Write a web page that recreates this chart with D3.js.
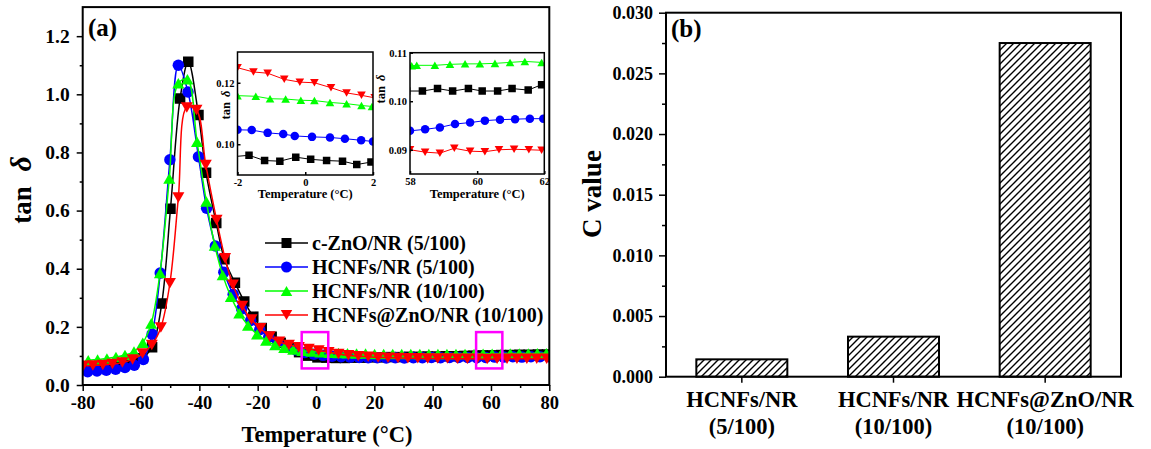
<!DOCTYPE html>
<html>
<head>
<meta charset="utf-8">
<script src="https://cdn.jsdelivr.net/npm/d3@7"></script>
<style>
body { margin: 0; background: #fff; }
svg text { font-family: "Liberation Serif", "Times New Roman", serif; font-weight: bold; fill: #000; }
</style>
</head>
<body>
<svg id="chart" width="1151" height="449"></svg>
<script>
// ---- data ----
const seriesNames = ["c-ZnO/NR (5/100)", "HCNFs/NR (5/100)", "HCNFs/NR (10/100)", "HCNFs@ZnO/NR (10/100)"];
const seriesColors = ["#000000", "#0000ff", "#00ff00", "#ff0000"];
const seriesShapes = ["square", "circle", "up", "down"];

// main tan delta curves, [temperature, tan delta]
const cZnO5 = [[-78.8,0.058],[-75.6,0.060],[-72.4,0.062],[-69.2,0.065],[-66.0,0.070],[-62.8,0.078],[-59.6,0.092],[-56.2,0.130],[-52.9,0.280],[-49.9,0.606],[-46.6,0.986],[-43.8,1.112],[-40.3,0.929],[-37.7,0.730],[-34.2,0.557],[-31.4,0.433],[-27.8,0.352],[-24.6,0.287],[-21.5,0.235],[-18.6,0.196],[-15.2,0.166],[-12.1,0.145],[-9.0,0.128],[-5.8,0.113],[-2.7,0.101],[0.5,0.095],[3.6,0.094],[6.8,0.093],[9.9,0.093],[13.1,0.094],[16.2,0.094],[19.4,0.095],[22.5,0.095],[25.7,0.096],[28.8,0.096],[32.0,0.097],[35.1,0.097],[38.3,0.098],[41.4,0.098],[44.6,0.099],[47.7,0.099],[50.9,0.100],[54.0,0.101],[57.2,0.102],[60.3,0.102],[63.5,0.103],[66.6,0.103],[69.8,0.104],[72.9,0.104],[76.1,0.105],[79.2,0.105]];
const hcnf5 = [[-78.3,0.046],[-75.1,0.048],[-71.9,0.051],[-68.7,0.054],[-65.5,0.060],[-62.3,0.068],[-59.2,0.088],[-56.2,0.175],[-53.4,0.385],[-50.1,0.775],[-47.2,1.100],[-43.9,1.008],[-40.3,0.785],[-37.5,0.608],[-34.5,0.478],[-31.6,0.388],[-28.4,0.312],[-25.5,0.262],[-22.4,0.222],[-19.3,0.190],[-16.2,0.165],[-13.1,0.146],[-10.0,0.132],[-6.9,0.121],[-3.8,0.112],[-0.7,0.106],[2.4,0.102],[5.5,0.099],[8.6,0.097],[11.7,0.096],[14.8,0.095],[17.9,0.094],[21.0,0.094],[24.1,0.093],[27.2,0.094],[30.3,0.093],[33.4,0.094],[36.5,0.094],[39.6,0.095],[42.7,0.094],[45.8,0.095],[48.9,0.095],[52.0,0.095],[55.1,0.094],[58.2,0.095],[61.3,0.096],[64.4,0.096],[67.5,0.097],[70.6,0.096],[73.7,0.097],[76.8,0.097],[79.9,0.097]];
const hcnf10 = [[-78.1,0.085],[-74.9,0.088],[-71.7,0.091],[-68.6,0.096],[-65.5,0.103],[-62.4,0.115],[-59.4,0.145],[-56.5,0.212],[-53.5,0.385],[-50.3,0.710],[-47.2,1.038],[-44.1,1.052],[-40.8,0.837],[-37.6,0.631],[-34.7,0.480],[-32.0,0.378],[-29.2,0.304],[-26.3,0.247],[-23.3,0.205],[-20.2,0.175],[-17.1,0.153],[-14.0,0.138],[-10.9,0.128],[-7.8,0.122],[-4.7,0.118],[-1.6,0.1155],[1.5,0.113],[4.6,0.111],[7.7,0.110],[10.8,0.109],[13.9,0.108],[17.0,0.108],[20.1,0.107],[23.2,0.107],[26.3,0.107],[29.4,0.107],[32.5,0.107],[35.6,0.107],[38.7,0.107],[41.8,0.107],[44.9,0.107],[48.0,0.107],[51.1,0.107],[54.2,0.107],[57.3,0.1075],[60.4,0.1077],[63.5,0.108],[66.6,0.108],[69.7,0.108],[72.8,0.108],[75.9,0.109],[79.0,0.109]];
const hcnfZnO10 = [[-79.8,0.066],[-76.5,0.067],[-73.1,0.069],[-69.8,0.072],[-66.4,0.077],[-62.9,0.088],[-59.5,0.108],[-56.3,0.138],[-53.2,0.198],[-50.1,0.350],[-47.2,0.645],[-44.3,0.955],[-41.0,0.946],[-37.8,0.757],[-34.1,0.568],[-31.2,0.436],[-28.5,0.345],[-25.3,0.272],[-22.1,0.225],[-19.1,0.195],[-15.9,0.167],[-12.6,0.149],[-9.3,0.138],[-5.9,0.130],[-2.5,0.124],[0.9,0.119],[4.3,0.113],[7.7,0.107],[11.1,0.102],[14.5,0.099],[17.9,0.097],[21.3,0.095],[24.7,0.094],[28.1,0.093],[31.5,0.092],[34.9,0.092],[38.3,0.091],[41.7,0.091],[45.1,0.091],[48.5,0.090],[51.9,0.090],[55.3,0.090],[58.7,0.0895],[62.1,0.090],[65.5,0.090],[68.9,0.090],[72.3,0.090],[75.7,0.090],[79.1,0.090]];

// inset near 0 C
const inset0cZnO = [[-2.1,0.0960],[-1.66,0.0964],[-1.2,0.0947],[-0.75,0.0945],[-0.28,0.0958],[0.16,0.0951],[0.63,0.0947],[1.1,0.0945],[1.52,0.0934],[1.94,0.0942]];
const inset0hcnf5 = [[-2.0,0.1047],[-1.58,0.1046],[-1.11,0.1037],[-0.65,0.1033],[-0.31,0.1027],[0.2,0.1024],[0.73,0.1022],[1.17,0.1018],[1.65,0.1013],[2.0,0.1009]];
const inset0hcnf10 = [[-2.0,0.1158],[-1.46,0.1156],[-1.04,0.1148],[-0.58,0.1147],[-0.13,0.1143],[0.27,0.1142],[0.73,0.1136],[1.22,0.1132],[1.66,0.1126],[1.97,0.1123]];
const inset0ZnO10 = [[-2.0,0.1249],[-1.53,0.1235],[-1.11,0.1231],[-0.62,0.1211],[-0.16,0.1202],[0.27,0.1200],[0.76,0.1184],[1.22,0.1167],[1.66,0.1159],[2.05,0.1151]];

// inset near 60 C
const inset60cZnO = [[57.9,0.1021],[58.37,0.1021],[58.82,0.1026],[59.27,0.1021],[59.74,0.1026],[60.15,0.1021],[60.61,0.1021],[61.04,0.1026],[61.52,0.1023],[61.92,0.1034]];
const inset60hcnf5 = [[58.0,0.0939],[58.45,0.0942],[58.89,0.0946],[59.34,0.0953],[59.79,0.0956],[60.23,0.0960],[60.68,0.0962],[61.13,0.0963],[61.57,0.0964],[61.97,0.0964]];
const inset60hcnf10 = [[58.05,0.1073],[58.2,0.1074],[58.74,0.1074],[59.19,0.1076],[59.64,0.1077],[60.08,0.1077],[60.53,0.1078],[60.98,0.1080],[61.42,0.1082],[61.92,0.1080]];
const inset60ZnO10 = [[58.0,0.0900],[58.45,0.0895],[58.89,0.0893],[59.32,0.0903],[59.79,0.0897],[60.23,0.0896],[60.65,0.0900],[61.1,0.0901],[61.54,0.0900],[61.92,0.0899]];

// highlighted windows on the main plot [t0, t1, v0, v1]
const zoomBoxes = [[-4.9, 4.2, 0.057, 0.182], [54.9, 63.9, 0.057, 0.182]];

// panel (b)
const barCategories = [["HCNFs/NR", "(5/100)"], ["HCNFs/NR", "(10/100)"], ["HCNFs@ZnO/NR", "(10/100)"]];
const barValues = [0.00143, 0.0033, 0.0275];

const mainTicksX = [-80, -60, -40, -20, 0, 20, 40, 60, 80];
const mainTicksY = [0, 0.2, 0.4, 0.6, 0.8, 1.0, 1.2];
const barTicksY = [0, 0.005, 0.01, 0.015, 0.02, 0.025, 0.03];


const svg = d3.select("#chart");
const defs = svg.append("defs");


function markerPath(shape, s) {
    if (shape == "square") {
        return `M${-s/2},${-s/2}h${s}v${s}h${-s}Z`;
    }
    if (shape == "circle") {
        const r = s / 2 + 0.5;
        return `M${-r},0a${r},${r} 0 1,0 ${2*r},0a${r},${r} 0 1,0 ${-2*r},0Z`;
    }
    const a = s * 1.15, h = a * 0.87;
    if (shape == "up") {
        return `M0,${-h/2}L${a/2},${h/2}L${-a/2},${h/2}Z`;
    }
    return `M0,${h/2}L${a/2},${-h/2}L${-a/2},${-h/2}Z`;
}


function drawSeries(g, data, x, y, color, shape, size, curve, lineWidth) {
    const line = d3.line()
        .x(d => x(d[0]))
        .y(d => y(d[1]))
        .curve(curve);

    g.append("path")
        .datum(data)
        .attr("d", line)
        .attr("fill", "none")
        .attr("stroke", color)
        .attr("stroke-width", lineWidth);

    g.selectAll(null)
        .data(data)
        .enter()
        .append("path")
        .attr("d", markerPath(shape, size))
        .attr("transform", d => `translate(${x(d[0])},${y(d[1])})`)
        .attr("fill", color);
}


// ================= panel (a) =================
const ax = d3.scaleLinear().domain([-80, 80]).range([82.7, 549.3]);
const ay = d3.scaleLinear().domain([0, 1.3]).range([385, 7.1]);

defs.append("clipPath").attr("id", "clipA")
    .append("rect")
    .attr("x", ax.range()[0]).attr("y", ay.range()[1])
    .attr("width", ax.range()[1] - ax.range()[0])
    .attr("height", ay.range()[0] - ay.range()[1]);

const gA = svg.append("g");
const plotA = gA.append("g").attr("clip-path", "url(#clipA)");

const mainSets = [cZnO5, hcnf5, hcnf10, hcnfZnO10];
mainSets.forEach((data, i) => {
    drawSeries(plotA, data, ax, ay, seriesColors[i], seriesShapes[i], 10.5, d3.curveCatmullRom.alpha(0.5), 1.5);
});

// magenta windows
plotA.selectAll(".zoomBox")
    .data(zoomBoxes)
    .enter()
    .append("rect")
    .attr("class", "zoomBox")
    .attr("x", d => ax(d[0]))
    .attr("y", d => ay(d[3]))
    .attr("width", d => ax(d[1]) - ax(d[0]))
    .attr("height", d => ay(d[2]) - ay(d[3]))
    .attr("fill", "none")
    .attr("stroke", "#ff00ff")
    .attr("stroke-width", 2.5);

// axes
const axBottomA = gA.append("g")
    .attr("transform", `translate(0,${ay.range()[0]})`)
    .call(d3.axisBottom(ax).tickValues(mainTicksX).tickSize(6).tickSizeOuter(0).tickPadding(5).tickFormat(d => String(d)));
gA.append("g")
    .attr("transform", `translate(0,${ay.range()[0]})`)
    .call(d3.axisBottom(ax).tickValues(d3.range(-70, 80, 20)).tickSize(3).tickSizeOuter(0).tickFormat(""));
const axLeftA = gA.append("g")
    .attr("transform", `translate(${ax.range()[0]},0)`)
    .call(d3.axisLeft(ay).tickValues(mainTicksY).tickSize(6).tickSizeOuter(0).tickPadding(7).tickFormat(d3.format(".1f")));
gA.append("g")
    .attr("transform", `translate(${ax.range()[0]},0)`)
    .call(d3.axisLeft(ay).tickValues([0.1, 0.3, 0.5, 0.7, 0.9, 1.1]).tickSize(3).tickSizeOuter(0).tickFormat(""));

gA.append("rect")
    .attr("x", ax.range()[0]).attr("y", ay.range()[1])
    .attr("width", ax.range()[1] - ax.range()[0])
    .attr("height", ay.range()[0] - ay.range()[1])
    .attr("fill", "none").attr("stroke", "#000").attr("stroke-width", 2);

gA.append("text")
    .attr("x", 88).attr("y", 36)
    .style("font-size", "25px")
    .text("(a)");

gA.append("text")
    .attr("x", 327).attr("y", 442)
    .attr("text-anchor", "middle")
    .style("font-size", "22.5px")
    .text("Temperature (\u00B0C)");

const tanLabel = gA.append("text")
    .attr("transform", "translate(31,190) rotate(-90)")
    .attr("text-anchor", "middle")
    .style("font-size", "27px");
tanLabel.append("tspan").text("tan ");
tanLabel.append("tspan").attr("dx", 8).style("font-style", "italic").style("font-size", "30px").text("\u03B4");

// legend
const legendA = gA.append("g").attr("transform", "translate(265,243)");
seriesNames.forEach((name, i) => {
    const row = legendA.append("g").attr("transform", `translate(0,${i * 24})`);
    row.append("line")
        .attr("x1", 0).attr("x2", 43).attr("y1", 0).attr("y2", 0)
        .attr("stroke", seriesColors[i]).attr("stroke-width", 1.5);
    row.append("path")
        .attr("d", markerPath(seriesShapes[i], 10))
        .attr("transform", "translate(21.5,0)")
        .attr("fill", seriesColors[i]);
    row.append("text")
        .attr("x", 47).attr("y", 7)
        .style("font-size", "20px")
        .text(name);
});


// ---------- insets ----------
function drawInset(id, xDomain, xRange, yDomain, yRange, xTicks, yTicks, yFmt, sets, labelPos) {
    const x = d3.scaleLinear().domain(xDomain).range(xRange);
    const y = d3.scaleLinear().domain(yDomain).range(yRange);
    const g = gA.append("g");

    g.append("rect")
        .attr("x", xRange[0]).attr("y", yRange[1])
        .attr("width", xRange[1] - xRange[0]).attr("height", yRange[0] - yRange[1])
        .attr("fill", "#fff");

    defs.append("clipPath").attr("id", id)
        .append("rect")
        .attr("x", xRange[0]).attr("y", yRange[1])
        .attr("width", xRange[1] - xRange[0]).attr("height", yRange[0] - yRange[1]);

    const plot = g.append("g").attr("clip-path", `url(#${id})`);
    sets.forEach((data, i) => {
        drawSeries(plot, data, x, y, seriesColors[i], seriesShapes[i], 7.5, d3.curveLinear, 1);
    });

    const bottom = g.append("g")
        .attr("transform", `translate(0,${yRange[0]})`)
        .call(d3.axisBottom(x).tickValues(xTicks).tickSize(-3).tickSizeOuter(0).tickPadding(4).tickFormat(d => String(d)));
    const left = g.append("g")
        .attr("transform", `translate(${xRange[0]},0)`)
        .call(d3.axisLeft(y).tickValues(yTicks).tickSize(-3).tickSizeOuter(0).tickPadding(3).tickFormat(d3.format(yFmt)));
    [bottom, left].forEach(a => {
        a.select(".domain").remove();
        a.selectAll("text").style("font-size", "10.5px").attr("fill", "#000");
        a.selectAll(".tick line").attr("stroke-width", 1);
        a.attr("font-family", null);
    });

    g.append("rect")
        .attr("x", xRange[0]).attr("y", yRange[1])
        .attr("width", xRange[1] - xRange[0]).attr("height", yRange[0] - yRange[1])
        .attr("fill", "none").attr("stroke", "#000").attr("stroke-width", 1.5);

    g.append("text")
        .attr("x", (xRange[0] + xRange[1]) / 2).attr("y", 198)
        .attr("text-anchor", "middle")
        .style("font-size", "12.5px")
        .text("Temperature (\u00B0C)");

    const lab = g.append("text")
        .attr("transform", `translate(${labelPos[0]},${labelPos[1]}) rotate(-90)`)
        .attr("text-anchor", "middle")
        .style("font-size", "12.5px");
    lab.append("tspan").text("tan ");
    lab.append("tspan").attr("dx", 2).style("font-style", "italic").text("\u03B4");
}

drawInset("clipI1", [-2, 2], [237.5, 373], [0.09, 0.13], [175, 52], [-2, 0, 2], [0.10, 0.12], ".2f",
    [inset0cZnO, inset0hcnf5, inset0hcnf10, inset0ZnO10], [230, 105]);
drawInset("clipI2", [58, 62], [410, 544.3], [0.085, 0.11], [174, 52.7], [58, 60, 62], [0.09, 0.10, 0.11], ".2f",
    [inset60cZnO, inset60hcnf5, inset60hcnf10, inset60ZnO10], [385, 89]);


// ================= panel (b) =================
const bx = d3.scaleBand().domain(d3.range(barValues.length)).range([666, 1121]).paddingInner(0.4).paddingOuter(0.2);
const by = d3.scaleLinear().domain([0, 0.03]).range([376.7, 12.7]);

const hatch = defs.append("pattern")
    .attr("id", "hatch")
    .attr("patternUnits", "userSpaceOnUse")
    .attr("width", 7).attr("height", 7);
hatch.append("path")
    .attr("d", "M-1,1 l2,-2 M0,7 l7,-7 M6,8 l2,-2")
    .attr("stroke", "#000").attr("stroke-width", 1.4);

const gB = svg.append("g");

gB.selectAll(".bar")
    .data(barValues)
    .enter()
    .append("rect")
    .attr("class", "bar")
    .attr("x", (d, i) => bx(i))
    .attr("y", d => by(d))
    .attr("width", bx.bandwidth())
    .attr("height", d => by(0) - by(d))
    .attr("fill", "url(#hatch)")
    .attr("stroke", "#000")
    .attr("stroke-width", 2);

const axLeftB = gB.append("g")
    .attr("transform", `translate(${bx.range()[0]},0)`)
    .call(d3.axisLeft(by).tickValues(barTicksY).tickSize(7).tickSizeOuter(0).tickPadding(6).tickFormat(d3.format(".3f")));
gB.append("g")
    .attr("transform", `translate(${bx.range()[0]},0)`)
    .call(d3.axisLeft(by).tickValues([0.0025, 0.0075, 0.0125, 0.0175, 0.0225, 0.0275]).tickSize(4).tickSizeOuter(0).tickFormat(""));

const axBottomB = gB.append("g")
    .attr("transform", `translate(0,${by.range()[0]})`)
    .call(d3.axisBottom(bx).tickSize(6).tickSizeOuter(0).tickFormat(""));

gB.selectAll(".catLabel")
    .data(barCategories)
    .enter()
    .append("text")
    .attr("class", "catLabel")
    .attr("text-anchor", "middle")
    .style("font-size", "22.5px")
    .each(function (d, i) {
        const cx = bx(i) + bx.bandwidth() / 2;
        d3.select(this).append("tspan").attr("x", cx).attr("y", 407).text(d[0]);
        d3.select(this).append("tspan").attr("x", cx).attr("y", 434).text(d[1]);
    });

gB.append("rect")
    .attr("x", bx.range()[0]).attr("y", by.range()[1])
    .attr("width", bx.range()[1] - bx.range()[0])
    .attr("height", by.range()[0] - by.range()[1])
    .attr("fill", "none").attr("stroke", "#000").attr("stroke-width", 2);

gB.append("text")
    .attr("x", 671).attr("y", 37)
    .style("font-size", "25px")
    .text("(b)");

gB.append("text")
    .attr("transform", "translate(601,194) rotate(-90)")
    .attr("text-anchor", "middle")
    .style("font-size", "27px")
    .text("C value");


// common axis styling
svg.selectAll(".domain").remove();
axBottomA.selectAll("text").style("font-size", "18.5px").attr("fill", "#000");
axLeftA.selectAll("text").style("font-size", "19.5px").attr("fill", "#000");
axLeftB.selectAll("text").style("font-size", "18px").attr("fill", "#000");
svg.selectAll("g[font-family]").attr("font-family", null);
svg.selectAll(".tick line").attr("stroke-width", 1.5);
</script>
</body>
</html>
